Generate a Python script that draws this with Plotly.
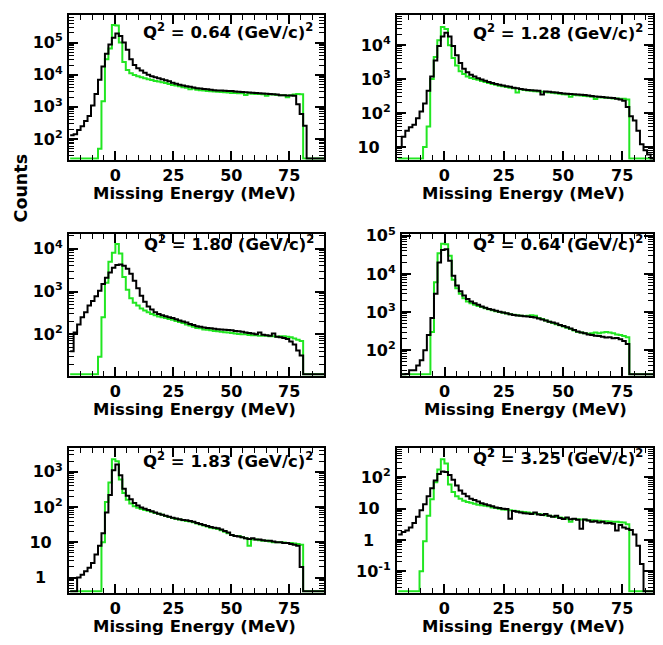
import numpy as np
import plotly.graph_objects as go

# ---------------- data ----------------
BIN_START = -19.5   # MeV, left edge of first bin
BIN_WIDTH = 1.5     # MeV

q2_values = ["0.64", "1.28", "1.80", "0.64", "1.83", "3.25"]

black_1 = [130, 140, 190, 250, 360, 520, 1100, 2500, 7000, 18000,
           45000, 87000, 140000, 190000, 160000, 100000, 60000, 30000, 20000, 16000,
           13500, 11500, 10000, 9000, 8300, 7700, 7200, 6700, 6300, 5600,
           5200, 4900, 4600, 4400, 4200, 4000, 3800, 3700, 3600, 3500,
           3400, 3300, 3250, 3200, 3150, 3100, 3100, 3000, 2950, 2900,
           2850, 2800, 2750, 2700, 2650, 2600, 2550, 2500, 2450, 2400,
           2300, 2300, 2250, 2250, 2200, 1200, 600, 260, 0, 0,
           0, 0, 0]
green_1 = [0, 0, 0, 0, 0, 0, 0, 0, 50, 1500,
           30000, 65000, 350000, 340000, 100000, 25000, 14000, 11000, 9800, 9000,
           8300, 7700, 7200, 6800, 6400, 6100, 5800, 5500, 5100, 4800,
           4600, 4400, 4100, 3950, 3500, 3700, 3400, 3300, 3200, 3100,
           3050, 3000, 2950, 2900, 2850, 2800, 2700, 2700, 2650, 2650,
           2350, 2600, 2550, 2500, 2500, 2450, 2200, 2400, 2400, 2350,
           2300, 2300, 2000, 2300, 2400, 2500, 2450, 0, 0, 0,
           0, 0, 0]

black_2 = [10, 20, 30, 38, 45, 70, 110, 190, 450, 1200,
           3500, 9500, 18000, 23000, 18000, 9500, 5000, 3000, 2000, 1600,
           1350, 1200, 1050, 980, 900, 820, 760, 720, 680, 650,
           620, 590, 560, 540, 510, 490, 480, 470, 460, 450,
           350, 430, 420, 410, 400, 390, 375, 370, 365, 360,
           350, 345, 340, 330, 320, 305, 300, 295, 285, 280,
           275, 265, 250, 230, 150, 80, 60, 30, 12, 8,
           6, 0, 0]
green_2 = [0, 0, 0, 0, 0, 0, 0, 10, 40, 1000,
           4500, 14000, 34000, 30000, 10000, 4200, 2500, 1700, 1400, 1200,
           1080, 1000, 950, 880, 820, 760, 720, 680, 640, 610,
           580, 560, 540, 400, 500, 480, 460, 450, 440, 430,
           420, 410, 400, 395, 380, 370, 360, 350, 300, 340,
           335, 330, 320, 310, 300, 260, 290, 285, 280, 275,
           270, 268, 265, 262, 250, 0, 0, 0, 0, 0,
           0, 0, 0]

black_3 = [40, 110, 170, 250, 330, 470, 600, 780, 1050, 1500,
           2100, 2800, 3600, 4200, 4300, 4000, 3400, 2600, 1800, 1200,
           800, 580, 450, 380, 330, 300, 280, 265, 250, 240,
           225, 210, 200, 190, 175, 165, 155, 150, 145, 140,
           138, 135, 132, 130, 128, 126, 125, 120, 118, 115,
           110, 108, 105, 100, 110, 98, 95, 92, 105, 88,
           85, 82, 78, 68, 58, 42, 32, 0, 0, 0,
           0, 0, 0]
green_3 = [0, 0, 0, 0, 0, 0, 0, 0, 30, 250,
           1600, 5000, 8100, 13000, 7800, 2200, 1100, 700, 550, 470,
           400, 360, 330, 300, 280, 260, 250, 240, 228, 218,
           205, 195, 185, 170, 160, 150, 140, 138, 130, 128,
           125, 120, 118, 115, 112, 110, 108, 105, 102, 100,
           100, 97, 95, 95, 92, 93, 92, 90, 90, 88,
           90, 90, 88, 85, 80, 75, 70, 0, 0, 0,
           0, 0, 0]

black_4 = [0, 0, 24, 30, 30, 40, 55, 100, 250, 700,
           3000, 20000, 42000, 44000, 22000, 9000, 5000, 3500, 2700, 2200,
           1900, 1700, 1550, 1400, 1300, 1200, 1150, 1080, 1020, 980,
           930, 880, 840, 810, 800, 780, 760, 740, 720, 680,
           640, 600, 560, 530, 500, 460, 430, 400, 370, 340,
           310, 290, 280, 260, 250, 240, 235, 225, 215, 220,
           205, 210, 195, 175, 145, 0, 0, 0, 0, 0,
           0, 0, 0]
green_4 = [0, 0, 0, 0, 0, 0, 0, 0, 0, 300,
           6000, 35000, 62000, 60000, 30000, 7000, 4200, 3000, 2300, 1900,
           1700, 1550, 1450, 1350, 1250, 1180, 1120, 1050, 1000, 960,
           920, 880, 850, 820, 800, 790, 800, 820, 800, 700,
           660, 600, 560, 520, 480, 450, 420, 390, 360, 330,
           300, 290, 280, 270, 280, 290, 280, 290, 300, 290,
           280, 260, 250, 235, 220, 0, 0, 0, 0, 0,
           0, 0, 0]

black_5 = [0, 0, 1, 1.2, 1.5, 1.9, 2.6, 4.5, 8, 18,
           70, 220, 1100, 1600, 800, 330, 210, 165, 130, 110,
           97, 90, 82, 76, 70, 65, 60, 57, 53, 50,
           47, 45, 43, 42, 40, 38, 35, 33, 31, 29,
           27, 26, 25, 23, 21, 19, 16, 15, 14.5, 14,
           13, 12.5, 13, 12, 12, 11.5, 11, 11, 10.5, 10,
           10, 9.5, 9.5, 9, 8.5, 8, 2, 0, 0, 0,
           0, 0, 0]
green_5 = [0, 0, 0, 0, 0, 0, 0, 0, 0, 10,
           140, 500, 2250, 2000, 600, 250, 160, 125, 105, 95,
           88, 82, 78, 74, 68, 64, 60, 56, 52, 49,
           46, 44, 42, 40, 39, 37, 34, 32, 30, 28,
           26, 25, 24, 22, 20, 18, 16, 15, 15, 14,
           13, 8, 12, 12, 11.5, 11, 11, 10.5, 10, 10,
           10, 9.8, 9.5, 9.6, 9.2, 9, 8.5, 0, 0, 0,
           0, 0, 0]

black_6 = [1.5, 1.8, 2.0, 2.5, 3.5, 5.5, 9, 14, 25, 45,
           80, 130, 155, 150, 120, 85, 55, 38, 30, 25,
           21, 19, 17, 15, 14, 13, 12, 11, 10.5, 10,
           9.8, 4.8, 8.5, 8, 7.5, 7.2, 7, 6.8, 7.5, 6.5,
           6.3, 6.8, 6, 5.5, 6, 5, 4.7, 5.2, 4.6, 4.8,
           4.4, 2.3, 4.5, 4.2, 3.8, 4, 3.6, 3.8, 3.4, 3.5,
           3.3, 2.0, 3, 2.5, 2.3, 2.1, 1.5, 0.65, 0.17, 0,
           0, 0, 0]
green_6 = [0, 0, 0, 0, 0, 0, 0.1, 0.9, 6, 20,
           70, 180, 380, 280, 60, 34, 25, 21, 18, 16.5,
           15.5, 14.5, 13.5, 13, 12.5, 12, 11, 10.5, 10, 9.5,
           9.2, 9, 8.6, 8.3, 8, 7.8, 7.5, 7.2, 7, 6.8,
           6.5, 6.2, 6, 5.6, 5.4, 5.2, 5, 4.8, 3.8, 4.7,
           4.6, 4.5, 4.4, 4.3, 4.3, 4.2, 4.1, 4.0, 4.0, 3.9,
           3.8, 3.8, 3.7, 3.6, 3.2, 0, 0, 0, 0, 0,
           0, 0, 0]

black_series = [black_1, black_2, black_3, black_4, black_5, black_6]
green_series = [green_1, green_2, green_3, green_4, green_5, green_6]

# ---------------- layout (pixels) ----------------
W, H = 663, 645
FONT = "DejaVu Sans"
BLACK = "#000000"
GREEN = "#22e622"

panels = [
    dict(box=(69, 6, 324, 153), xr=(-20, 90), yr=(1.35, 5.86), txt=(315, 22)),
    dict(box=(397, 6, 653, 153), xr=(-20, 88), yr=(0.62, 4.89), txt=(645, 23)),
    dict(box=(69, 228, 324, 372), xr=(-20, 90), yr=(1.03, 4.35), txt=(316, 237)),
    dict(box=(402, 228, 653, 372), xr=(-18, 88), yr=(1.33, 5.05), txt=(645, 237)),
    dict(box=(69, 445, 324, 592), xr=(-20, 90), yr=(-0.43, 3.68), txt=(315, 457)),
    dict(box=(397, 445, 653, 592), xr=(-20, 88), yr=(-1.69, 2.95), txt=(645, 454)),
]

NB = "\u00a0"


def dec_label(k):
    if k == 0:
        return "1" + NB * 3
    if k == 1:
        return "10" + NB * 2
    return "10<sup>%d</sup>" % k


fig = go.Figure()
annotations = []

for n, (p, blk, grn, q2) in enumerate(zip(panels, black_series, green_series, q2_values), start=1):
    assert len(blk) == 73 and len(grn) == 73, (n, len(blk), len(grn))
    x0, y0, x1, y1 = p["box"]
    ylo, yhi = p["yr"]
    hpx = y1 - y0
    floor = 10 ** (ylo + 1.5 * (yhi - ylo) / hpx)
    nbins = len(blk)
    edges = BIN_START + BIN_WIDTH * np.arange(nbins + 1)

    xs = "x" if n == 1 else "x%d" % n
    ys = "y" if n == 1 else "y%d" % n
    for vals, col in ((grn, GREEN), (blk, BLACK)):
        v = np.maximum(np.asarray(vals, dtype=float), floor)
        yv = np.append(v, v[-1])
        fig.add_trace(go.Scatter(x=edges, y=yv, mode="lines",
                                 line=dict(color=col, width=2, shape="hv"),
                                 xaxis=xs, yaxis=ys, showlegend=False,
                                 hoverinfo="skip"))

    decs = [k for k in range(int(np.floor(ylo)), int(np.ceil(yhi)) + 1)
            if ylo <= k <= yhi]
    minors = [m * 10.0 ** k for k in range(int(np.floor(ylo)) - 1, int(np.ceil(yhi)) + 1)
              for m in range(2, 10) if ylo <= np.log10(m * 10.0 ** k) <= yhi]

    xa = dict(domain=[x0 / W, x1 / W], range=list(p["xr"]), anchor=ys,
              showline=True, linecolor=BLACK, linewidth=2, mirror="allticks",
              ticks="inside", ticklen=9, tickwidth=1.5, tickcolor=BLACK,
              tick0=0, dtick=25, showgrid=False, zeroline=False,
              tickfont=dict(family=FONT, size=16, color=BLACK, weight="bold"),
              ticklabelstandoff=0,
              minor=dict(ticks="inside", ticklen=5, tickwidth=1.2, tickcolor=BLACK,
                         dtick=5, tick0=0, showgrid=False))
    ya = dict(domain=[1 - y1 / H, 1 - y0 / H], type="log", range=[ylo, yhi], anchor=xs,
              showline=True, linecolor=BLACK, linewidth=2, mirror="allticks",
              ticks="inside", ticklen=9, tickwidth=1.5, tickcolor=BLACK,
              tickmode="array", tickvals=[10.0 ** k for k in decs],
              ticktext=[dec_label(k) for k in decs],
              showgrid=False, zeroline=False,
              tickfont=dict(family=FONT, size=16, color=BLACK, weight="bold"),
              ticklabelstandoff=1,
              minor=dict(ticks="inside", ticklen=5, tickwidth=1.2, tickcolor=BLACK,
                         tickmode="array", tickvals=minors, showgrid=False))
    fig.update_layout(**{("xaxis" if n == 1 else "xaxis%d" % n): xa,
                         ("yaxis" if n == 1 else "yaxis%d" % n): ya})

    tx, ty = p["txt"]
    annotations.append(dict(
        text="Q<sup>2</sup> = %s (GeV/c)<sup>2</sup>" % q2,
        x=tx / W, y=1 - ty / H, xref="paper", yref="paper",
        xanchor="right", yanchor="middle", showarrow=False,
        font=dict(family=FONT, size=16.5, color=BLACK, weight="bold")))
    annotations.append(dict(
        text="Missing Energy (MeV)",
        x=((x0 + x1) / 2 - 2) / W, y=1 - (y1 + 34) / H, xref="paper", yref="paper",
        xanchor="center", yanchor="middle", showarrow=False,
        font=dict(family=FONT, size=16.5, color=BLACK, weight="bold")))

annotations.append(dict(
    text="Counts", x=21 / W, y=1 - 182 / H, xref="paper", yref="paper",
    xanchor="center", yanchor="middle", textangle=-90, showarrow=False,
    font=dict(family=FONT, size=17.5, color=BLACK, weight="bold")))

fig.update_layout(width=W, height=H, margin=dict(l=0, r=0, t=0, b=0),
                  paper_bgcolor="white", plot_bgcolor="white",
                  annotations=annotations, showlegend=False)

fig.write_html("out.html", config={"displayModeBar": False},
               post_script="document.body.style.margin='0';document.body.style.padding='0';")
